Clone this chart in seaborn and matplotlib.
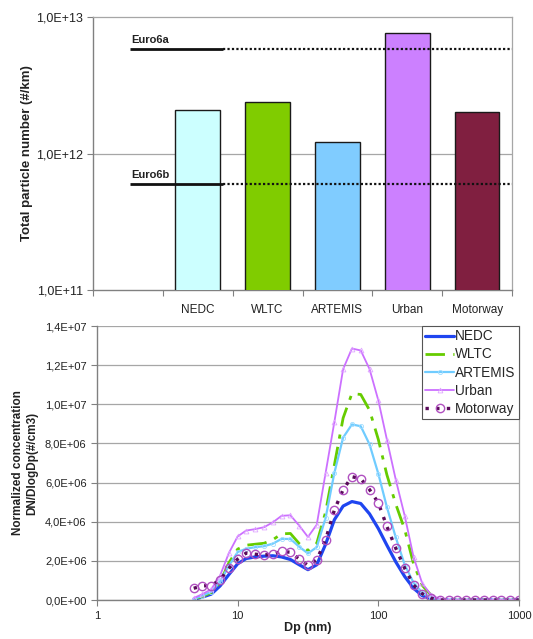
import matplotlib
matplotlib.use("Agg")
import matplotlib.pyplot as plt
import matplotlib.transforms as mtransforms
from matplotlib.ticker import FuncFormatter, FixedLocator, NullLocator
import seaborn as sns
import pandas as pd
import numpy as np

# ---------------- data ----------------
cycles = ["NEDC", "WLTC", "ARTEMIS", "Urban", "Motorway"]
total_pn = [2.07e12, 2.37e12, 1.21e12, 7.6e12, 2.0e12]
bar_colors = ["#CCFFFF", "#80CC00", "#80CCFF", "#CC80FF", "#801F40"]
euro6a = 5.8e12
euro6b = 6.0e11

dp = [4.87, 5.62, 6.49, 7.50, 8.66, 10.0, 11.5, 13.3, 15.4, 17.8, 20.5, 23.7,
      27.4, 31.6, 36.5, 42.2, 48.7, 56.2, 64.9, 75.0, 86.6, 100, 115, 133,
      154, 178, 205, 237, 274, 316, 365, 422, 487, 562, 649, 750, 866, 1000]
nedc = [0.03, 0.15, 0.3, 0.72, 1.3, 1.85, 2.12, 2.2, 2.24, 2.26, 2.2, 2.07,
        1.8, 1.55, 1.8, 2.85, 4.1, 4.8, 5.03, 4.93, 4.4, 3.65, 2.8, 1.95,
        1.2, 0.6, 0.22, 0.06, 0.01, 0, 0, 0, 0, 0, 0, 0, 0, 0]
wltc = [0.05, 0.18, 0.38, 0.9, 1.9, 2.6, 2.8, 2.85, 2.9, 3.08, 3.38, 3.4,
        2.88, 2.52, 2.9, 4.5, 6.9, 9.3, 10.55, 10.5, 9.7, 8.2, 6.4, 4.9,
        3.6, 1.85, 0.75, 0.25, 0.04, 0, 0, 0, 0, 0, 0, 0, 0, 0]
artemis = [0.05, 0.22, 0.42, 0.95, 1.75, 2.45, 2.62, 2.7, 2.75, 2.88, 3.12, 3.12,
           2.72, 2.38, 2.7, 4.2, 6.5, 8.3, 8.97, 8.88, 7.95, 6.45, 4.75, 3.2,
           1.8, 0.88, 0.38, 0.11, 0.02, 0, 0, 0, 0, 0, 0, 0, 0, 0]
urban = [0.1, 0.3, 0.55, 1.25, 2.4, 3.25, 3.55, 3.62, 3.72, 3.97, 4.3, 4.33,
         3.8, 3.22, 3.85, 6.5, 9.1, 11.8, 12.85, 12.75, 11.8, 10.2, 8.2, 6.15,
         4.3, 2.2, 0.85, 0.26, 0.05, 0, 0, 0, 0, 0, 0, 0, 0, 0]
motorway = [0.6, 0.72, 0.74, 1.03, 1.62, 2.09, 2.4, 2.34, 2.3, 2.34, 2.48, 2.44,
            2.09, 1.77, 2.05, 3.08, 4.6, 5.64, 6.3, 6.2, 5.64, 4.96, 3.76, 2.65,
            1.62, 0.77, 0.32, 0.09, 0, 0, 0, 0, 0, 0, 0, 0, 0, 0]
series_names = ["NEDC", "WLTC", "ARTEMIS", "Urban", "Motorway"]
series_vals = [nedc, wltc, artemis, urban, motorway]

# ---------------- style ----------------
sns.set_theme(style="white")
plt.rcParams["font.family"] = ["Liberation Sans", "DejaVu Sans"]
TXT = "#222222"
GRID = "#A6A6A6"

fig = plt.figure(figsize=(5.33, 6.39), dpi=100)
W, H = 533, 639

def box(l, t, r, b):
    return [l / W, 1 - b / H, (r - l) / W, (b - t) / H]

sci = FuncFormatter(lambda v, p: f"{v:.1E}".replace(".", ","))

# ---------------- top: bar chart ----------------
ax1 = fig.add_axes(box(93, 17, 512, 290))
ax1.set_yscale("log")
df_bar = pd.DataFrame({"cycle": cycles, "pn": total_pn})
sns.barplot(data=df_bar, x="cycle", y="pn", hue="cycle", order=cycles,
            palette=bar_colors, saturation=1, width=0.64, edgecolor="#1a1a1a",
            linewidth=1.0, legend=False, ax=ax1, zorder=3)
ax1.set_xlim(-1.5, 4.5)
ax1.set_ylim(1e11, 1e13)
ax1.yaxis.set_major_locator(FixedLocator([1e11, 1e12, 1e13]))
ax1.yaxis.set_minor_locator(NullLocator())
ax1.yaxis.set_major_formatter(sci)
ax1.set_xticks(range(len(cycles)))
ax1.set_xticklabels(cycles)
ax1.xaxis.set_minor_locator(FixedLocator(np.arange(-1.5, 4.6, 1.0)))
ax1.tick_params(axis="x", which="major", length=0, pad=10, labelsize=8.5, labelcolor=TXT)
ax1.tick_params(axis="x", which="minor", length=4, width=0.8, color="#808080", direction="out", bottom=True)
ax1.tick_params(axis="y", which="major", length=4, width=0.8, color="#808080", direction="out",
                left=True, labelsize=9, labelcolor=TXT, pad=3)
ax1.set_xlabel("")
ax1.set_ylabel("Total particle number (#/km)", fontsize=9.5, fontweight="bold", color=TXT, labelpad=2)
ax1.grid(False)
ax1.axhline(1e12, color=GRID, lw=0.9, zorder=1)
for s in ["left", "bottom"]:
    ax1.spines[s].set_color("#808080")
    ax1.spines[s].set_linewidth(1.0)
for s in ["top", "right"]:
    ax1.spines[s].set_color(GRID)
    ax1.spines[s].set_linewidth(0.9)

trans = mtransforms.blended_transform_factory(ax1.transAxes, ax1.transData)
x_solid0, x_split = (130 - 93) / 419, (223 - 93) / 419
for val, lab in [(euro6a, "Euro6a"), (euro6b, "Euro6b")]:
    ax1.plot([x_solid0, x_split], [val, val], transform=trans, color="#111111", lw=2.0,
             solid_capstyle="butt", zorder=4)
    ax1.plot([x_split, 1.0], [val, val], transform=trans, color="#111111", lw=1.6,
             linestyle=(0, (1, 1)), zorder=4)
    ax1.text(x_solid0 + 0.003, val * 1.07, lab, transform=trans, fontsize=8,
             fontweight="bold", color=TXT, ha="left", va="bottom", zorder=5)

# ---------------- bottom: size distributions ----------------
ax2 = fig.add_axes(box(97, 326, 519, 600))
df_line = pd.DataFrame({
    "dp": dp * len(series_names),
    "conc": [v * 1e6 for vals in series_vals for v in vals],
    "cycle": [n for n in series_names for _ in dp],
})

styles = {
    "NEDC": dict(color="#1F45F0", lw=2.3, linestyle="-"),
    "WLTC": dict(color="#66CC00", lw=2.0, linestyle=(0, (7, 3, 1.5, 3))),
    "ARTEMIS": dict(color="#70CCFF", lw=1.6, linestyle="-", marker="o", markersize=3,
                    markerfacecolor="none", markeredgecolor="#9EDCFF", markeredgewidth=0.6),
    "Urban": dict(color="#CC70FF", lw=1.3, linestyle="-", marker="^", markersize=3.5,
                  markerfacecolor="none", markeredgecolor="#E0A8FF", markeredgewidth=0.6),
    "Motorway": dict(color="#5A0A5A", lw=2.4, linestyle=(0, (1, 2.2)), marker="o", markersize=6,
                     markerfacecolor="none", markeredgecolor="#B050C0", markeredgewidth=1.0),
}
for name in series_names:
    sub = df_line[df_line["cycle"] == name]
    sns.lineplot(data=sub, x="dp", y="conc", ax=ax2, label=name, estimator=None,
                 sort=False, **styles[name])

ax2.set_xscale("log")
ax2.set_xlim(1, 1000)
ax2.set_ylim(0, 1.4e7)
ax2.xaxis.set_major_locator(FixedLocator([1, 10, 100, 1000]))
ax2.xaxis.set_minor_locator(NullLocator())
ax2.xaxis.set_major_formatter(FuncFormatter(lambda v, p: f"{v:g}"))
ax2.yaxis.set_major_locator(FixedLocator(np.arange(0, 1.41e7, 2e6)))
ax2.yaxis.set_major_formatter(sci)
ax2.tick_params(axis="both", which="major", length=4, width=0.8, color="#808080",
                direction="out", left=True, bottom=True, labelsize=8, labelcolor=TXT)
ax2.tick_params(axis="x", pad=4)
ax2.grid(True, axis="y", color=GRID, lw=0.9)
ax2.set_axisbelow(True)
ax2.set_xlabel("Dp (nm)", fontsize=9, fontweight="bold", color=TXT, labelpad=1)
ax2.set_ylabel("Normalized concentration\nDN/DlogDp(#/cm3)", fontsize=8.5,
               fontweight="bold", color=TXT, labelpad=5)
for s in ["left", "bottom"]:
    ax2.spines[s].set_color("#808080")
    ax2.spines[s].set_linewidth(1.0)
ax2.spines["top"].set_visible(False)
ax2.spines["right"].set_color(GRID)
ax2.spines["right"].set_linewidth(0.9)

leg = ax2.legend(loc="upper right", bbox_to_anchor=(1.0, 1.0), fontsize=9.8, frameon=True,
                 fancybox=False, edgecolor="#555555", framealpha=1, borderaxespad=0,
                 handlelength=2.1, handletextpad=0.1, labelspacing=0.3, borderpad=0.25)
leg.get_frame().set_linewidth(0.8)

fig.savefig("out.png", dpi=100)
